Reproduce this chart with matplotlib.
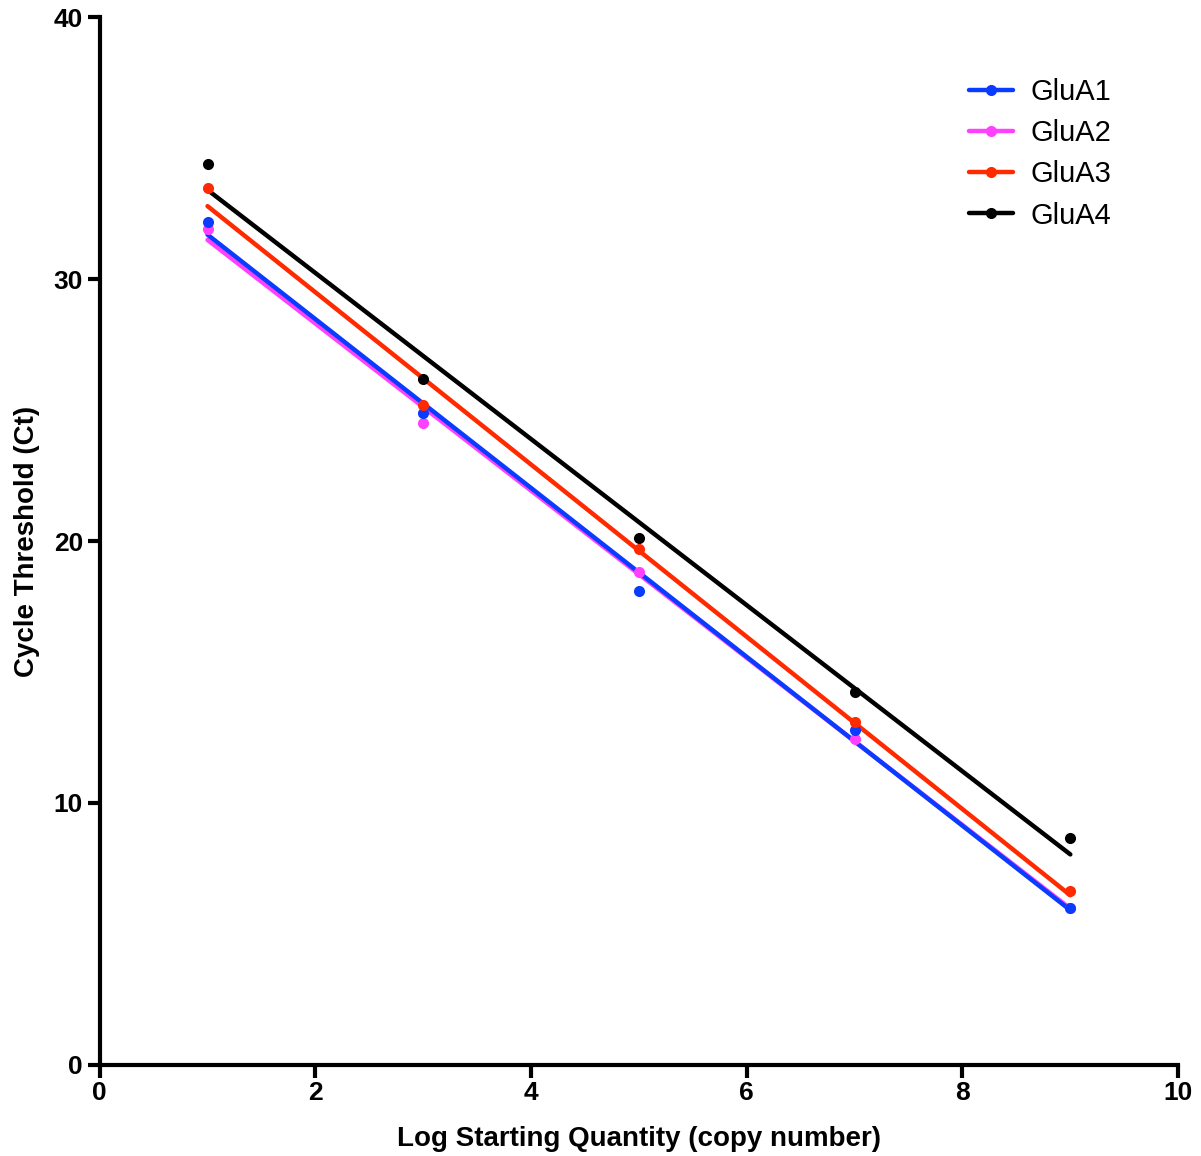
import numpy as np
import matplotlib
matplotlib.use("Agg")
import matplotlib.pyplot as plt
from matplotlib.lines import Line2D

# log starting quantity (copy number)
log_qty = [1, 3, 5, 7, 9]

# Ct values
glua1 = [32.2, 24.9, 18.1, 12.8, 6.0]
glua2 = [31.9, 24.5, 18.8, 12.45, 6.0]
glua3 = [33.5, 25.2, 19.7, 13.1, 6.65]
glua4 = [34.4, 26.2, 20.1, 14.25, 8.65]

series = [
    ("GluA2", glua2, "#ff40ff"),
    ("GluA1", glua1, "#0a3cff"),
    ("GluA3", glua3, "#ff2a00"),
    ("GluA4", glua4, "#000000"),
]
legend_order = ["GluA1", "GluA2", "GluA3", "GluA4"]

plt.rcParams["font.family"] = ["Liberation Sans", "DejaVu Sans"]

fig = plt.figure(figsize=(12.01, 11.56), dpi=100)
ax = fig.add_axes([0.083, 0.079, 0.898, 0.906])

x = np.array(log_qty, dtype=float)
for name, y, color in series:
    slope, icpt = np.polyfit(x, y, 1)
    ax.plot(x, slope * x + icpt, color=color, lw=3.2, solid_capstyle="round", zorder=2)
for name, y, color in series:
    ax.plot(x, y, "o", color=color, ms=8, mec="none", zorder=3)

handles = []
colors = {n: c for n, _, c in series}
for n in legend_order:
    handles.append(Line2D([], [], color=colors[n], lw=3.2, marker="o", ms=8,
                          mec="none", solid_capstyle="round"))
ax.legend(handles, legend_order, loc="upper right", bbox_to_anchor=(0.962, 0.967),
          frameon=False, fontsize=21, handlelength=1.5, handletextpad=0.6,
          labelspacing=0.45)

ax.set_xlim(0, 10)
ax.set_ylim(0, 40)
ax.set_xticks([0, 2, 4, 6, 8, 10])
ax.set_yticks([0, 10, 20, 30, 40])
for side in ("top", "right"):
    ax.spines[side].set_visible(False)
for side in ("left", "bottom"):
    ax.spines[side].set_linewidth(3)
ax.tick_params(direction="out", length=9, width=3, labelsize=19, pad=3)
for lab in ax.get_xticklabels() + ax.get_yticklabels():
    lab.set_fontweight("bold")

ax.set_xlabel("Log Starting Quantity (copy number)", fontsize=20, fontweight="bold",
              labelpad=15)
ax.set_ylabel("Cycle Threshold (Ct)", fontsize=20, fontweight="bold", labelpad=10)

fig.savefig("out.png", dpi=100)
